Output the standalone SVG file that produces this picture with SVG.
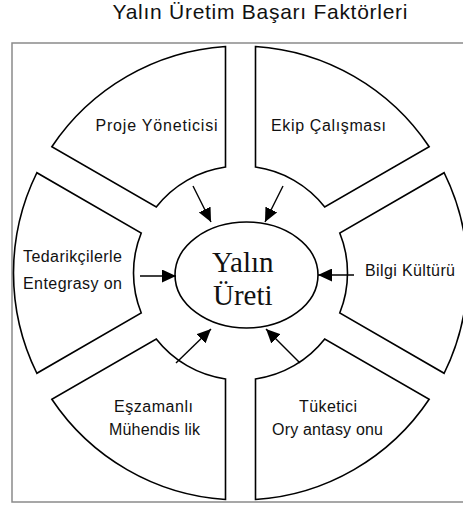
<svg xmlns="http://www.w3.org/2000/svg" width="463" height="508" viewBox="0 0 463 508">
  <style>
    .frame { fill: none; stroke: #8a8a8a; stroke-width: 1.5; }
    .sector { fill: #ffffff; stroke: #000000; stroke-width: 1.6; stroke-linejoin: miter; }
    .core { fill: #ffffff; stroke: #000000; stroke-width: 1.6; }
    .label { font-family: "Liberation Sans", Arial, sans-serif; font-size: 16px; fill: #111111; text-anchor: middle; }
    .title { font-family: "Liberation Sans", Arial, sans-serif; font-size: 21px; fill: #111111; text-anchor: middle; }
    .coretext { font-family: "Liberation Serif", "Times New Roman", serif; font-size: 29px; fill: #111111; }
    .arrow { stroke: #000000; stroke-width: 1.4; fill: none; marker-end: url(#head); }
  </style>
  <defs>
    <marker id="head" markerUnits="userSpaceOnUse" markerWidth="15" markerHeight="13" refX="14" refY="6.5" orient="auto">
      <path d="M0,0 L14,6.5 L0,13 Z" fill="#000000"/>
    </marker>
  </defs>

  <rect width="463" height="508" fill="#ffffff"/>

  <text class="title" x="260" y="19" textLength="295" lengthAdjust="spacing">Yalın Üretim Başarı Faktörleri</text>

  <rect class="frame" x="12" y="43" width="470" height="459"/>

  <g id="proje-yoneticisi">
    <path class="sector" d="M225.5,46.5 A227,227 0 0 0 51.83,146.77 L156.26,207.03 A107,107 0 0 1 225.5,167.06 Z"/>
    <text class="label" x="156.5" y="131" textLength="122" lengthAdjust="spacing">Proje Yöneticisi</text>
  </g>

  <g id="ekip-calismasi">
    <path class="sector" d="M255.5,46.5 A227,227 0 0 1 429.17,146.77 L324.74,207.03 A107,107 0 0 0 255.5,167.06 Z"/>
    <text class="label" x="328.5" y="131" textLength="115" lengthAdjust="spacing">Ekip Çalışması</text>
  </g>

  <g id="bilgi-kulturu">
    <path class="sector" d="M444.16,172.73 A227,227 0 0 1 444.16,373.27 L339.75,312.98 A107,107 0 0 0 339.75,233.02 Z"/>
    <text class="label" x="410" y="276" textLength="90" lengthAdjust="spacing">Bilgi Kültürü</text>
  </g>

  <g id="tuketici-oryantasyonu">
    <path class="sector" d="M255.5,499.5 A227,227 0 0 0 429.17,399.23 L324.74,338.97 A107,107 0 0 1 255.5,378.94 Z"/>
    <text class="label" x="328" y="412" textLength="58" lengthAdjust="spacing">Tüketici</text>
    <text class="label" x="327.5" y="435" textLength="111" lengthAdjust="spacing">Ory antasy onu</text>
  </g>

  <g id="eszamanli-muhendislik">
    <path class="sector" d="M225.5,499.5 A227,227 0 0 1 51.83,399.23 L156.26,338.97 A107,107 0 0 0 225.5,378.94 Z"/>
    <text class="label" x="153.5" y="412" textLength="79" lengthAdjust="spacing">Eşzamanlı</text>
    <text class="label" x="154.5" y="435" textLength="91" lengthAdjust="spacing">Mühendis lik</text>
  </g>

  <g id="tedarikcilerle-entegrasyon">
    <path class="sector" d="M36.84,172.73 A227,227 0 0 0 36.84,373.27 L141.25,312.98 A107,107 0 0 1 141.25,233.02 Z"/>
    <text class="label" x="72.5" y="262" textLength="99" lengthAdjust="spacing">Tedarikçilerle</text>
    <text class="label" x="72.5" y="289" textLength="99" lengthAdjust="spacing">Entegrasy on</text>
  </g>

  <g id="yalin-uretim">
    <ellipse class="core" cx="246.5" cy="275" rx="71.5" ry="53"/>
    <text class="coretext" x="212" y="272">Yalın</text>
    <text class="coretext" x="213" y="305">Üreti</text>
  </g>

  <g id="connectors">
    <line class="arrow" x1="193" y1="186" x2="211" y2="222"/>
    <line class="arrow" x1="283" y1="186" x2="265" y2="222"/>
    <line class="arrow" x1="140" y1="276" x2="176" y2="276"/>
    <line class="arrow" x1="354" y1="275" x2="318" y2="275"/>
    <line class="arrow" x1="176" y1="363" x2="211" y2="329"/>
    <line class="arrow" x1="300" y1="363" x2="266" y2="329"/>
  </g>
</svg>
